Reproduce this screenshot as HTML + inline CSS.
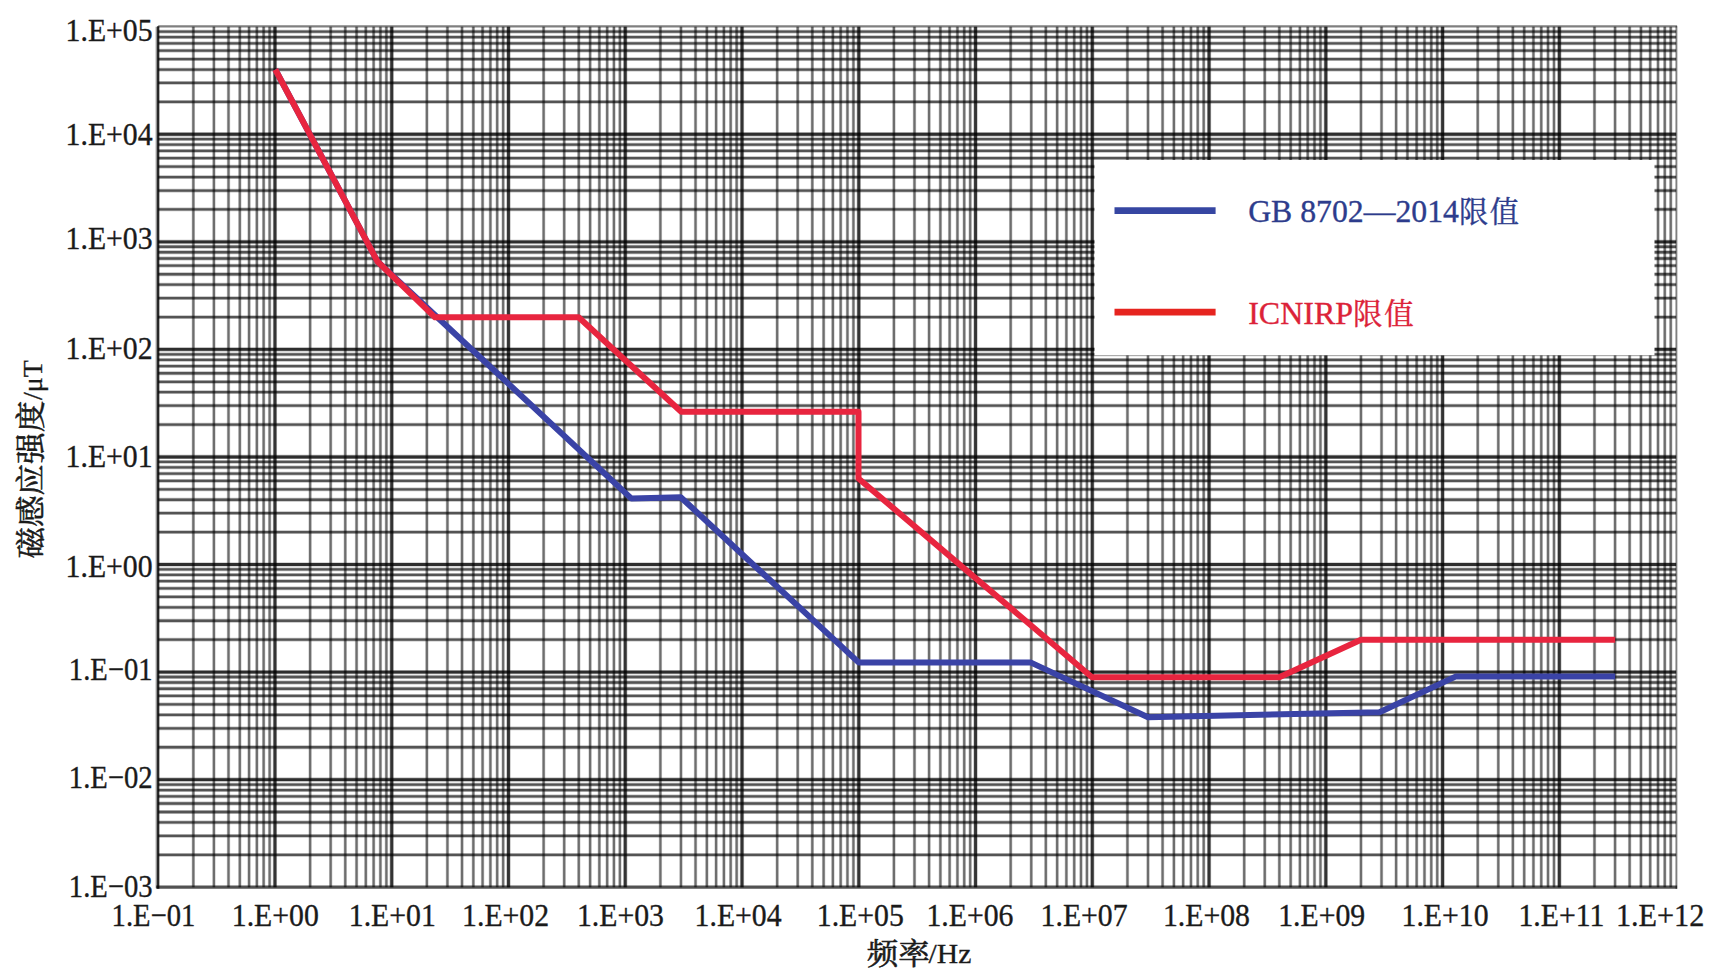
<!DOCTYPE html>
<html lang="zh">
<head>
<meta charset="utf-8">
<title>磁感应强度限值</title>
<style>
html,body{margin:0;padding:0;background:#fff;}
body{width:1714px;height:980px;overflow:hidden;position:relative;font-family:"Liberation Serif","Noto Serif CJK SC",serif;}
svg{position:absolute;left:0;top:0;display:block;}
text{font-family:"Liberation Serif","Noto Serif CJK SC",serif;stroke-width:0.35px;}
.tick,.title{stroke:#1a1a1a;}
.title{stroke-width:0.55px;}
.tick{font-size:32.0px;fill:#1a1a1a;}
.title{font-size:31px;fill:#1a1a1a;}
.lg{font-size:32px;}
</style>
</head>
<body>
<svg width="1714" height="980" viewBox="0 0 1714 980">
<rect x="0" y="0" width="1714" height="980" fill="#ffffff"/>
<path d="M193.35 26.73V887.20M213.91 26.73V887.20M228.50 26.73V887.20M239.81 26.73V887.20M249.06 26.73V887.20M256.87 26.73V887.20M263.65 26.73V887.20M269.62 26.73V887.20M310.11 26.73V887.20M330.67 26.73V887.20M345.26 26.73V887.20M356.57 26.73V887.20M365.82 26.73V887.20M373.64 26.73V887.20M380.41 26.73V887.20M386.38 26.73V887.20M426.87 26.73V887.20M447.43 26.73V887.20M462.02 26.73V887.20M473.34 26.73V887.20M482.58 26.73V887.20M490.40 26.73V887.20M497.17 26.73V887.20M503.14 26.73V887.20M543.63 26.73V887.20M564.19 26.73V887.20M578.78 26.73V887.20M590.10 26.73V887.20M599.34 26.73V887.20M607.16 26.73V887.20M613.93 26.73V887.20M619.90 26.73V887.20M660.39 26.73V887.20M680.96 26.73V887.20M695.54 26.73V887.20M706.86 26.73V887.20M716.10 26.73V887.20M723.92 26.73V887.20M730.69 26.73V887.20M736.66 26.73V887.20M777.16 26.73V887.20M797.72 26.73V887.20M812.31 26.73V887.20M823.62 26.73V887.20M832.87 26.73V887.20M840.68 26.73V887.20M847.45 26.73V887.20M853.43 26.73V887.20M893.92 26.73V887.20M914.48 26.73V887.20M929.07 26.73V887.20M940.38 26.73V887.20M949.63 26.73V887.20M957.44 26.73V887.20M964.22 26.73V887.20M970.19 26.73V887.20M1010.68 26.73V887.20M1031.24 26.73V887.20M1045.83 26.73V887.20M1057.14 26.73V887.20M1066.39 26.73V887.20M1074.21 26.73V887.20M1080.98 26.73V887.20M1086.95 26.73V887.20M1127.44 26.73V887.20M1148.00 26.73V887.20M1162.59 26.73V887.20M1173.91 26.73V887.20M1183.15 26.73V887.20M1190.97 26.73V887.20M1197.74 26.73V887.20M1203.71 26.73V887.20M1244.20 26.73V887.20M1264.76 26.73V887.20M1279.35 26.73V887.20M1290.67 26.73V887.20M1299.91 26.73V887.20M1307.73 26.73V887.20M1314.50 26.73V887.20M1320.47 26.73V887.20M1360.96 26.73V887.20M1381.52 26.73V887.20M1396.11 26.73V887.20M1407.43 26.73V887.20M1416.67 26.73V887.20M1424.49 26.73V887.20M1431.26 26.73V887.20M1437.23 26.73V887.20M1477.73 26.73V887.20M1498.29 26.73V887.20M1512.87 26.73V887.20M1524.19 26.73V887.20M1533.44 26.73V887.20M1541.25 26.73V887.20M1548.02 26.73V887.20M1554.00 26.73V887.20M1594.49 26.73V887.20M1615.05 26.73V887.20M1629.64 26.73V887.20M1640.95 26.73V887.20M1650.20 26.73V887.20M1658.01 26.73V887.20M1664.78 26.73V887.20M1670.76 26.73V887.20" fill="none" stroke="#000" stroke-opacity="0.2" stroke-width="3.4"/>
<path d="M193.35 26.73V887.20M213.91 26.73V887.20M228.50 26.73V887.20M239.81 26.73V887.20M249.06 26.73V887.20M256.87 26.73V887.20M263.65 26.73V887.20M269.62 26.73V887.20M310.11 26.73V887.20M330.67 26.73V887.20M345.26 26.73V887.20M356.57 26.73V887.20M365.82 26.73V887.20M373.64 26.73V887.20M380.41 26.73V887.20M386.38 26.73V887.20M426.87 26.73V887.20M447.43 26.73V887.20M462.02 26.73V887.20M473.34 26.73V887.20M482.58 26.73V887.20M490.40 26.73V887.20M497.17 26.73V887.20M503.14 26.73V887.20M543.63 26.73V887.20M564.19 26.73V887.20M578.78 26.73V887.20M590.10 26.73V887.20M599.34 26.73V887.20M607.16 26.73V887.20M613.93 26.73V887.20M619.90 26.73V887.20M660.39 26.73V887.20M680.96 26.73V887.20M695.54 26.73V887.20M706.86 26.73V887.20M716.10 26.73V887.20M723.92 26.73V887.20M730.69 26.73V887.20M736.66 26.73V887.20M777.16 26.73V887.20M797.72 26.73V887.20M812.31 26.73V887.20M823.62 26.73V887.20M832.87 26.73V887.20M840.68 26.73V887.20M847.45 26.73V887.20M853.43 26.73V887.20M893.92 26.73V887.20M914.48 26.73V887.20M929.07 26.73V887.20M940.38 26.73V887.20M949.63 26.73V887.20M957.44 26.73V887.20M964.22 26.73V887.20M970.19 26.73V887.20M1010.68 26.73V887.20M1031.24 26.73V887.20M1045.83 26.73V887.20M1057.14 26.73V887.20M1066.39 26.73V887.20M1074.21 26.73V887.20M1080.98 26.73V887.20M1086.95 26.73V887.20M1127.44 26.73V887.20M1148.00 26.73V887.20M1162.59 26.73V887.20M1173.91 26.73V887.20M1183.15 26.73V887.20M1190.97 26.73V887.20M1197.74 26.73V887.20M1203.71 26.73V887.20M1244.20 26.73V887.20M1264.76 26.73V887.20M1279.35 26.73V887.20M1290.67 26.73V887.20M1299.91 26.73V887.20M1307.73 26.73V887.20M1314.50 26.73V887.20M1320.47 26.73V887.20M1360.96 26.73V887.20M1381.52 26.73V887.20M1396.11 26.73V887.20M1407.43 26.73V887.20M1416.67 26.73V887.20M1424.49 26.73V887.20M1431.26 26.73V887.20M1437.23 26.73V887.20M1477.73 26.73V887.20M1498.29 26.73V887.20M1512.87 26.73V887.20M1524.19 26.73V887.20M1533.44 26.73V887.20M1541.25 26.73V887.20M1548.02 26.73V887.20M1554.00 26.73V887.20M1594.49 26.73V887.20M1615.05 26.73V887.20M1629.64 26.73V887.20M1640.95 26.73V887.20M1650.20 26.73V887.20M1658.01 26.73V887.20M1664.78 26.73V887.20M1670.76 26.73V887.20" fill="none" stroke="#000" stroke-opacity="0.46" stroke-width="2.2"/>
<path d="M158.20 854.82H1676.10M158.20 835.88H1676.10M158.20 822.44H1676.10M158.20 812.02H1676.10M158.20 803.50H1676.10M158.20 796.30H1676.10M158.20 790.06H1676.10M158.20 784.56H1676.10M158.20 747.26H1676.10M158.20 728.32H1676.10M158.20 714.88H1676.10M158.20 704.46H1676.10M158.20 695.94H1676.10M158.20 688.74H1676.10M158.20 682.51H1676.10M158.20 677.00H1676.10M158.20 639.70H1676.10M158.20 620.76H1676.10M158.20 607.33H1676.10M158.20 596.90H1676.10M158.20 588.39H1676.10M158.20 581.18H1676.10M158.20 574.95H1676.10M158.20 569.45H1676.10M158.20 532.15H1676.10M158.20 513.21H1676.10M158.20 499.77H1676.10M158.20 489.34H1676.10M158.20 480.83H1676.10M158.20 473.63H1676.10M158.20 467.39H1676.10M158.20 461.89H1676.10M158.20 424.59H1676.10M158.20 405.65H1676.10M158.20 392.21H1676.10M158.20 381.78H1676.10M158.20 373.27H1676.10M158.20 366.07H1676.10M158.20 359.83H1676.10M158.20 354.33H1676.10M158.20 317.03H1676.10M158.20 298.09H1676.10M158.20 284.65H1676.10M158.20 274.23H1676.10M158.20 265.71H1676.10M158.20 258.51H1676.10M158.20 252.27H1676.10M158.20 246.77H1676.10M158.20 209.47H1676.10M158.20 190.53H1676.10M158.20 177.09H1676.10M158.20 166.67H1676.10M158.20 158.15H1676.10M158.20 150.95H1676.10M158.20 144.71H1676.10M158.20 139.21H1676.10M158.20 101.91H1676.10M158.20 82.97H1676.10M158.20 69.53H1676.10M158.20 59.11H1676.10M158.20 50.59H1676.10M158.20 43.39H1676.10M158.20 37.15H1676.10M158.20 31.65H1676.10" fill="none" stroke="#000" stroke-opacity="0.25" stroke-width="3.8"/>
<path d="M158.20 854.82H1676.10M158.20 835.88H1676.10M158.20 822.44H1676.10M158.20 812.02H1676.10M158.20 803.50H1676.10M158.20 796.30H1676.10M158.20 790.06H1676.10M158.20 784.56H1676.10M158.20 747.26H1676.10M158.20 728.32H1676.10M158.20 714.88H1676.10M158.20 704.46H1676.10M158.20 695.94H1676.10M158.20 688.74H1676.10M158.20 682.51H1676.10M158.20 677.00H1676.10M158.20 639.70H1676.10M158.20 620.76H1676.10M158.20 607.33H1676.10M158.20 596.90H1676.10M158.20 588.39H1676.10M158.20 581.18H1676.10M158.20 574.95H1676.10M158.20 569.45H1676.10M158.20 532.15H1676.10M158.20 513.21H1676.10M158.20 499.77H1676.10M158.20 489.34H1676.10M158.20 480.83H1676.10M158.20 473.63H1676.10M158.20 467.39H1676.10M158.20 461.89H1676.10M158.20 424.59H1676.10M158.20 405.65H1676.10M158.20 392.21H1676.10M158.20 381.78H1676.10M158.20 373.27H1676.10M158.20 366.07H1676.10M158.20 359.83H1676.10M158.20 354.33H1676.10M158.20 317.03H1676.10M158.20 298.09H1676.10M158.20 284.65H1676.10M158.20 274.23H1676.10M158.20 265.71H1676.10M158.20 258.51H1676.10M158.20 252.27H1676.10M158.20 246.77H1676.10M158.20 209.47H1676.10M158.20 190.53H1676.10M158.20 177.09H1676.10M158.20 166.67H1676.10M158.20 158.15H1676.10M158.20 150.95H1676.10M158.20 144.71H1676.10M158.20 139.21H1676.10M158.20 101.91H1676.10M158.20 82.97H1676.10M158.20 69.53H1676.10M158.20 59.11H1676.10M158.20 50.59H1676.10M158.20 43.39H1676.10M158.20 37.15H1676.10M158.20 31.65H1676.10" fill="none" stroke="#000" stroke-opacity="0.56" stroke-width="2.3"/>
<path d="M156.50 26.73V888.20" stroke="#000" stroke-opacity="0.42" stroke-width="1.7" fill="none"/>
<path d="M158.20 26.23V888.70" stroke="#000" stroke-opacity="0.85" stroke-width="2.3" fill="none"/>
<path d="M1676.40 26.23V888.70" stroke="#000" stroke-opacity="0.5" stroke-width="1.9" fill="none"/>
<path d="M158.20 26.43H1677.10" stroke="#000" stroke-opacity="0.5" stroke-width="2.3" fill="none"/>
<path d="M156.20 887.20H1677.10" stroke="#000" stroke-opacity="0.68" stroke-width="3.2" fill="none"/>
<path d="M274.96 26.73V887.20M391.72 26.73V887.20M508.48 26.73V887.20M625.25 26.73V887.20M742.01 26.73V887.20M858.77 26.73V887.20M975.53 26.73V887.20M1092.29 26.73V887.20M1209.05 26.73V887.20M1325.82 26.73V887.20M1442.58 26.73V887.20M1559.34 26.73V887.20" fill="none" stroke="#000" stroke-opacity="0.28" stroke-width="4.2"/>
<path d="M274.96 26.73V887.20M391.72 26.73V887.20M508.48 26.73V887.20M625.25 26.73V887.20M742.01 26.73V887.20M858.77 26.73V887.20M975.53 26.73V887.20M1092.29 26.73V887.20M1209.05 26.73V887.20M1325.82 26.73V887.20M1442.58 26.73V887.20M1559.34 26.73V887.20" fill="none" stroke="#000" stroke-opacity="0.72" stroke-width="2.9"/>
<path d="M158.20 779.64H1676.10M158.20 672.08H1676.10M158.20 564.52H1676.10M158.20 456.97H1676.10M158.20 349.41H1676.10M158.20 241.85H1676.10M158.20 134.29H1676.10" fill="none" stroke="#000" stroke-opacity="0.3" stroke-width="4.2"/>
<path d="M158.20 779.64H1676.10M158.20 672.08H1676.10M158.20 564.52H1676.10M158.20 456.97H1676.10M158.20 349.41H1676.10M158.20 241.85H1676.10M158.20 134.29H1676.10" fill="none" stroke="#000" stroke-opacity="0.74" stroke-width="2.9"/>
<polyline points="275.3,69.5 377.5,261.5 631.5,498.6 680.7,497.2 858.6,662.4 1031.0,662.6 1148.0,717.2 1379.5,712.2 1455.5,676.6 1615.2,676.6" fill="none" stroke="#3a43a6" stroke-width="6" stroke-linejoin="round"/>
<polyline points="275.3,69.5 377.5,261.5 435.0,317.3 578.6,317.3 681.2,411.7 858.5,411.7 858.5,478.5 1092.0,677.3 1279.3,677.3 1361.0,639.7 1615.2,639.7" fill="none" stroke="#e8253f" stroke-width="6" stroke-linejoin="round"/>
<rect x="1094.5" y="160" width="560" height="195.3" fill="#ffffff"/>
<line x1="1114.5" y1="210.7" x2="1215.6" y2="210.7" stroke="#3646a2" stroke-width="6.7"/>
<line x1="1114.5" y1="312.2" x2="1215.6" y2="312.2" stroke="#e6241f" stroke-width="6.7"/>
<text class="lg" transform="translate(1248.2,221.6) scale(0.992,1)" fill="#2d3c8c" stroke="#2d3c8c">GB 8702—2014<tspan style="font-size:29.5px;letter-spacing:1.6px">限值</tspan></text>
<text class="lg" transform="translate(1248.2,323.6) scale(1.0,1)" fill="#dc2238" stroke="#dc2238">ICNIRP<tspan style="font-size:29.5px;letter-spacing:1.6px">限值</tspan></text>
<text class="tick" transform="translate(152.6,41.4) scale(0.93,1)" text-anchor="end">1.E+05</text>
<text class="tick" transform="translate(152.6,144.9) scale(0.93,1)" text-anchor="end">1.E+04</text>
<text class="tick" transform="translate(152.6,248.7) scale(0.93,1)" text-anchor="end">1.E+03</text>
<text class="tick" transform="translate(152.6,358.6) scale(0.93,1)" text-anchor="end">1.E+02</text>
<text class="tick" transform="translate(152.6,466.7) scale(0.93,1)" text-anchor="end">1.E+01</text>
<text class="tick" transform="translate(152.6,576.7) scale(0.93,1)" text-anchor="end">1.E+00</text>
<text class="tick" transform="translate(152.6,680.2) scale(0.895,1)" text-anchor="end">1.E−01</text>
<text class="tick" transform="translate(152.6,788.3) scale(0.895,1)" text-anchor="end">1.E−02</text>
<text class="tick" transform="translate(152.6,896.7) scale(0.895,1)" text-anchor="end">1.E−03</text>
<text class="tick" transform="translate(111.6,925.7) scale(0.895,1)">1.E−01</text>
<text class="tick" transform="translate(231.8,925.7) scale(0.93,1)">1.E+00</text>
<text class="tick" transform="translate(348.8,925.7) scale(0.93,1)">1.E+01</text>
<text class="tick" transform="translate(462.1,925.7) scale(0.93,1)">1.E+02</text>
<text class="tick" transform="translate(576.9,925.7) scale(0.93,1)">1.E+03</text>
<text class="tick" transform="translate(694.6,925.7) scale(0.93,1)">1.E+04</text>
<text class="tick" transform="translate(816.8,925.7) scale(0.93,1)">1.E+05</text>
<text class="tick" transform="translate(926.4,925.7) scale(0.93,1)">1.E+06</text>
<text class="tick" transform="translate(1040.6,925.7) scale(0.93,1)">1.E+07</text>
<text class="tick" transform="translate(1162.9,925.7) scale(0.93,1)">1.E+08</text>
<text class="tick" transform="translate(1278.2,925.7) scale(0.93,1)">1.E+09</text>
<text class="tick" transform="translate(1401.5,925.7) scale(0.93,1)">1.E+10</text>
<text class="tick" transform="translate(1518.4,925.7) scale(0.93,1)">1.E+11</text>
<text class="tick" transform="translate(1615.9,925.7) scale(0.945,1)">1.E+12</text>
<text class="title" transform="translate(866.8,964.2) scale(1.06,1)" style="font-size:29.8px">频率<tspan dx="-1.3" dy="-1.2" style="font-size:28px;stroke-width:0.3px">/Hz</tspan></text>
<text class="title" transform="translate(41.2,558.6) rotate(-90) scale(1.06,1)" style="font-size:29.8px">磁感应强度<tspan dx="0.6" dy="0.4" style="font-size:26.4px;stroke-width:0.3px">/μT</tspan></text>
</svg>
</body>
</html>
